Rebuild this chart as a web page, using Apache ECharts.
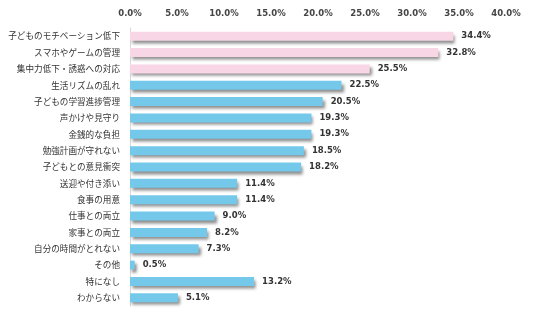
<!DOCTYPE html>
<html><head><meta charset="utf-8">
<script src="https://cdn.jsdelivr.net/npm/echarts@6/dist/echarts.min.js"></script>
<style>html,body{margin:0;padding:0;background:#fff}#c{width:536px;height:322px}</style>
</head><body><div id="c"></div>
<script>
const categories = ["子どものモチベーション低下","スマホやゲームの管理","集中力低下・誘惑への対応","生活リズムの乱れ","子どもの学習進捗管理","声かけや見守り","金銭的な負担","勉強計画が守れない","子どもとの意見衝突","送迎や付き添い","食事の用意","仕事との両立","家事との両立","自分の時間がとれない","その他","特になし","わからない"];
const values = [34.4,32.8,25.5,22.5,20.5,19.3,19.3,18.5,18.2,11.4,11.4,9.0,8.2,7.3,0.5,13.2,5.1];
const highlightCount = 3;
const xTicks = {min:0,max:40,interval:5};
const chart = echarts.init(document.getElementById('c'));
const font = '"Noto Sans CJK JP", sans-serif';
const numFont = '"DejaVu Sans", sans-serif';
chart.setOption({
  animation:false,
  grid:{left:130,right:30,top:28,bottom:16,containLabel:false},
  xAxis:{type:'value',position:'top',min:xTicks.min,max:xTicks.max,interval:xTicks.interval,
    axisLabel:{formatter:v=>v.toFixed(1)+'%',color:'#444',fontSize:8.5,fontFamily:numFont,fontWeight:'bold',margin:10},
    splitLine:{show:false},axisLine:{show:false},axisTick:{show:false}},
  yAxis:{type:'category',inverse:true,data:categories,
    axisLine:{show:true,lineStyle:{color:'#d9d9d9',width:1}},axisTick:{show:false},
    axisLabel:{color:'#333',fontSize:8.6,fontFamily:font,margin:10}},
  series:[{type:'bar',barWidth:9,
    data:values.map((v,i)=>({value:v,itemStyle:{color:i<highlightCount?'#f9d6e6':'#74c9eb'}})),
    itemStyle:{shadowColor:'rgba(0,0,0,0.45)',shadowBlur:3,shadowOffsetX:2,shadowOffsetY:3},
    label:{show:true,position:'right',distance:8,formatter:p=>p.value.toFixed(1)+'%',color:'#333',fontSize:8.5,fontFamily:numFont,fontWeight:'bold'}
  }]
});
</script></body></html>
